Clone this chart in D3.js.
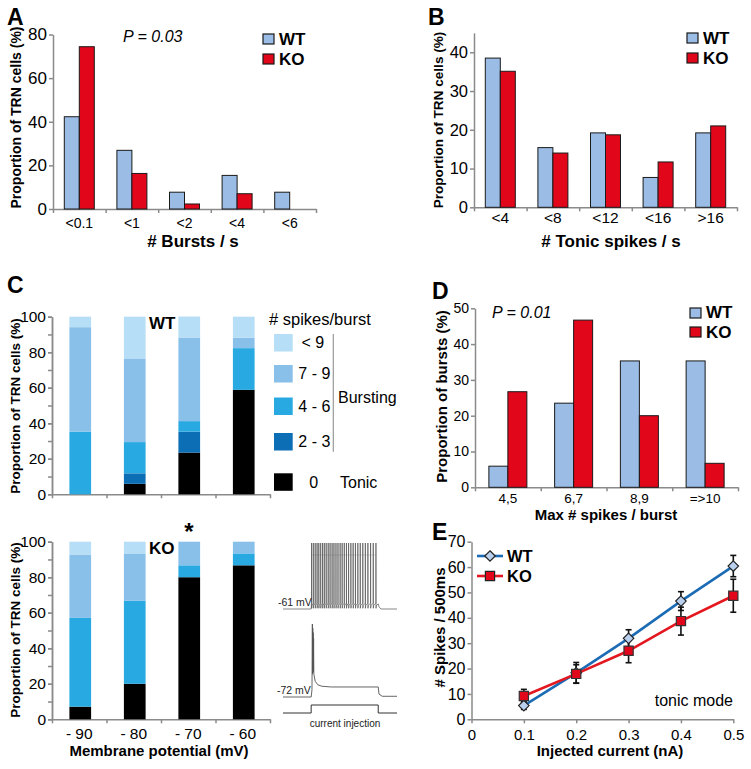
<!DOCTYPE html>
<html><head><meta charset="utf-8">
<script src="https://cdn.jsdelivr.net/npm/d3@7"></script>
<style>html,body{margin:0;padding:0;background:#fff;}</style>
</head><body>
<script>
// ---------- DATA ----------
const groups = ["WT", "KO"];
// Panel A: bursts per second
const aCats = ["<0.1", "<1", "<2", "<4", "<6"];
const aWT = [42.3, 26.9, 7.7, 15.4, 7.7];
const aKO = [74.4, 16.3, 2.3, 7.0, 0];
const aTicks = [0, 20, 40, 60, 80];
// Panel B: tonic spikes per second
const bCats = ["<4", "<8", "<12", "<16", ">16"];
const bWT = [38.5, 15.4, 19.2, 7.7, 19.2];
const bKO = [35.1, 14.0, 18.7, 11.7, 21.0];
const bTicks = [0, 10, 20, 30, 40];
// Panel C: proportion of TRN cells by membrane potential
const cCats = ["- 90", "- 80", "- 70", "- 60"];
const cKeys = ["0", "2 - 3", "4 - 6", "7 - 9", "< 9"];
const cWTTonic = [0, 5.9, 23.5, 58.8];
const cWT23 = [0, 5.9, 11.8, 0];
const cWT46 = [35.3, 17.6, 5.9, 23.5];
const cWT79 = [58.8, 47.1, 47.1, 5.9];
const cWTlt9 = [5.9, 23.5, 11.8, 11.8];
const cKOTonic = [7.1, 20.0, 80.0, 86.7];
const cKO23 = [0, 0, 0, 0];
const cKO46 = [50.0, 46.7, 6.7, 6.7];
const cKO79 = [35.7, 26.7, 13.3, 6.6];
const cKOlt9 = [7.2, 6.6, 0, 0];
const cTicks = [0, 20, 40, 60, 80, 100];
// Panel D: max spikes per burst
const dCats = ["4,5", "6,7", "8,9", "=>10"];
const dWT = [5.9, 23.5, 35.3, 35.3];
const dKO = [26.7, 46.7, 20.0, 6.7];
const dTicks = [0, 10, 20, 30, 40, 50];
// Panel E: spikes vs injected current
const eX = [0.1, 0.2, 0.3, 0.4, 0.5];
const eWT = [5.4, 18.3, 31.9, 46.6, 60.4];
const eWTerr = [1.5, 4.1, 3.4, 3.7, 4.2];
const eKO = [9.2, 17.9, 27.0, 38.7, 48.7];
const eKOerr = [2.6, 3.6, 4.7, 5.5, 6.5];
const eXTicks = [0, 0.1, 0.2, 0.3, 0.4, 0.5];
const eYTicks = [0, 10, 20, 30, 40, 50, 60, 70];
// Example traces (time in ms, voltage in mV)
const tonicSpikeTimes = [3, 16, 30, 44, 57, 71, 85, 98, 112, 127, 141, 156, 170, 185, 200, 216, 231, 247, 263, 279, 296, 313, 330, 348, 366, 385, 404, 423, 443, 463, 483];
const burstTrace = [[-210,-72],[0,-72],[6,-62],[9,30],[10,-40],[12,24],[13,-38],[15,18],[16,-36],[18,10],[20,-40],[30,-50],[50,-55],[80,-57],[150,-58],[500,-58],[506,-68],[530,-71],[640,-71]];
const currentStep = [[-210,0],[0,0],[0,1],[500,1],[500,0],[640,0]];

// ---------- SETUP ----------
const FONT = '"Liberation Sans", Arial, Helvetica, sans-serif';
const AX = "#8a8a8a";
const WTC = "#9bbce5", KOC = "#e2061b";
const cColors = {"0": "#000000", "2 - 3": "#0c6fb6", "4 - 6": "#29a9e1", "7 - 9": "#88c0ea", "< 9": "#b6def6"};

const svg = d3.select("body").append("svg")
  .attr("width", 751).attr("height", 769)
  .style("font-family", FONT);
svg.append("rect").attr("width", 751).attr("height", 769).attr("fill", "#fff");

function styleAxis(g) {
  g.attr("font-family", FONT);
  g.select(".domain").attr("stroke", AX).attr("stroke-width", 1.5);
  g.selectAll(".tick line").attr("stroke", AX).attr("stroke-width", 1.5);
  g.selectAll("text").attr("fill", "#000");
}

function yAxis(x, scale, ticks, minor, fs) {
  if (minor) {
    svg.append("g").attr("transform", `translate(${x},0)`)
      .call(d3.axisLeft(scale).tickValues(minor).tickSize(4).tickSizeOuter(0).tickFormat(""))
      .call(styleAxis);
  }
  const g = svg.append("g").attr("transform", `translate(${x},0)`)
    .call(d3.axisLeft(scale).tickValues(ticks).tickSize(4).tickSizeOuter(0).tickPadding(2))
    .call(styleAxis);
  g.attr("font-size", fs);
  return g;
}

function xCatAxis(y, x0, x1, cats, fs, labelCY) {
  const band = d3.scaleBand().domain(cats).range([x0, x1]);
  const lin = d3.scaleLinear().domain([0, cats.length]).range([x0, x1]);
  svg.append("g").attr("transform", `translate(0,${y})`)
    .call(d3.axisBottom(lin).tickValues(d3.range(cats.length + 1)).tickSize(4).tickSizeOuter(0).tickFormat(""))
    .call(styleAxis);
  const g = svg.append("g").attr("transform", `translate(0,${y})`)
    .call(d3.axisBottom(band).tickSize(0).tickPadding(labelCY - y - 0.36 * fs))
    .call(styleAxis);
  g.select(".domain").remove();
  g.attr("font-size", fs);
  return band;
}

function text(x, y, str, opts = {}) {
  const t = svg.append("text").attr("x", x).attr("y", y).text(str)
    .attr("font-size", opts.size || 14)
    .attr("font-weight", opts.bold ? "bold" : "normal")
    .attr("font-style", opts.italic ? "italic" : "normal")
    .attr("text-anchor", opts.anchor || "start")
    .attr("fill", opts.fill || "#000");
  if (opts.rotate) t.attr("transform", `rotate(-90,${x},${y})`);
  return t;
}

function groupedBars(band, y, wt, ko, w) {
  const rows = band.domain().map((c, i) => ({c, WT: wt[i], KO: ko[i]}));
  const off = {WT: -w, KO: 0};
  const col = {WT: WTC, KO: KOC};
  groups.forEach(k => {
    svg.append("g").selectAll("rect").data(rows.filter(r => r[k] > 0)).join("rect")
      .attr("x", r => band(r.c) + band.bandwidth() / 2 + off[k])
      .attr("width", w)
      .attr("y", r => y(r[k]))
      .attr("height", r => y(0) - y(r[k]))
      .attr("fill", col[k]).attr("stroke", "#1a1a1a").attr("stroke-width", 1);
  });
}

function legendBoxes(x, ys, size, fs, textY) {
  groups.forEach((k, i) => {
    svg.append("rect").attr("x", x).attr("y", ys[i]).attr("width", size[0]).attr("height", size[1])
      .attr("fill", k === "WT" ? WTC : KOC).attr("stroke", "#1a1a1a").attr("stroke-width", 1.2);
    text(x + size[0] + 5, textY[i], k, {size: fs, bold: true});
  });
}

// ---------- PANEL A ----------
{
  const y = d3.scaleLinear().domain([0, 80]).range([209, 34.5]);
  const band = xCatAxis(209, 53, 316, aCats, 14, 222.7);
  yAxis(53, y, aTicks, null, 17);
  groupedBars(band, y, aWT, aKO, 15);
  text(7, 25, "A", {size: 23, bold: true});
  text(123, 41.5, "P = 0.03", {size: 16, italic: true});
  legendBoxes(263, [34, 54], [11, 10], 17, [44.5, 65]);
  text(193, 247, "# Bursts / s", {size: 17, bold: true, anchor: "middle"});
  text(21, 117.5, "Proportion of TRN cells (%)", {size: 14, bold: true, anchor: "middle", rotate: true});
}

// ---------- PANEL B ----------
{
  const y = d3.scaleLinear().domain([0, 45]).range([207.3, 32.9]);
  const band = xCatAxis(207.3, 474, 737, bCats, 15.5, 218);
  yAxis(474, y, bTicks, null, 16.5);
  groupedBars(band, y, bWT, bKO, 15);
  text(428, 25, "B", {size: 23, bold: true});
  legendBoxes(687, [33, 53], [11, 10], 17, [44, 64]);
  text(611, 247, "# Tonic spikes / s", {size: 17, bold: true, anchor: "middle"});
  text(443, 120, "Proportion of TRN cells (%)", {size: 13.6, bold: true, anchor: "middle", rotate: true});
}

// ---------- PANEL C ----------
function stackedPanel(y0, y100, series, showLabels) {
  const y = d3.scaleLinear().domain([0, 100]).range([y0, y100]);
  const band = d3.scaleBand().domain(cCats).range([52, 270]);
  const lin = d3.scaleLinear().domain([0, cCats.length]).range([52, 270]);
  svg.append("g").attr("transform", `translate(0,${y0})`)
    .call(d3.axisBottom(lin).tickValues(d3.range(cCats.length + 1)).tickSize(4).tickSizeOuter(0).tickFormat(""))
    .call(styleAxis);
  if (showLabels) {
    const g = svg.append("g").attr("transform", `translate(0,${y0})`)
      .call(d3.axisBottom(band).tickSize(0).tickPadding(734 - y0 - 0.36 * 15.5))
      .call(styleAxis);
    g.select(".domain").remove();
    g.attr("font-size", 15.5);
  }
  yAxis(52, y, cTicks, d3.range(0, 101, 10), 15.5);
  const rows = cCats.map((c, i) => {
    const r = {c};
    cKeys.forEach((k, j) => r[k] = series[j][i]);
    return r;
  });
  const stacked = d3.stack().keys(cKeys)(rows);
  const bw = 21.7;
  stacked.forEach(layer => {
    svg.append("g").selectAll("rect").data(layer.filter(d => d[1] - d[0] > 0)).join("rect")
      .attr("x", d => band(d.data.c) + band.bandwidth() / 2 - bw / 2 + 1)
      .attr("width", bw)
      .attr("y", d => y(d[1]))
      .attr("height", d => y(d[0]) - y(d[1]))
      .attr("fill", cColors[layer.key]);
  });
  return y;
}
stackedPanel(494.3, 316.7, [cWTTonic, cWT23, cWT46, cWT79, cWTlt9], false);
stackedPanel(719.3, 541.7, [cKOTonic, cKO23, cKO46, cKO79, cKOlt9], true);
text(7, 293, "C", {size: 23, bold: true});
text(149, 329, "WT", {size: 17, bold: true});
text(149, 554, "KO", {size: 17, bold: true});
text(189, 540, "*", {size: 24, bold: true, anchor: "middle"});
text(159, 756, "Membrane potential (mV)", {size: 15, bold: true, anchor: "middle"});
text(19.5, 406, "Proportion of TRN cells (%)", {size: 13.5, bold: true, anchor: "middle", rotate: true});
text(19.5, 630, "Proportion of TRN cells (%)", {size: 13.5, bold: true, anchor: "middle", rotate: true});
// C legend
{
  text(269, 325, "# spikes/burst", {size: 16.5});
  const legendOrder = ["< 9", "7 - 9", "4 - 6", "2 - 3"];
  const boxY = [334, 365, 397.5, 433];
  legendOrder.forEach((k, i) => {
    svg.append("rect").attr("x", 274).attr("y", boxY[i]).attr("width", 18.7).attr("height", 17.5).attr("fill", cColors[k]);
    text(k === "< 9" ? 301.5 : 298.3, boxY[i] + 8.75 + 5.6, k, {size: 16});
  });
  svg.append("rect").attr("x", 274).attr("y", 473.3).attr("width", 18.7).attr("height", 17.5).attr("fill", cColors["0"]);
  text(309.3, 487.6, "0", {size: 16});
  text(340, 487.6, "Tonic", {size: 16});
  svg.append("line").attr("x1", 333.3).attr("x2", 333.3).attr("y1", 334).attr("y2", 451.7)
    .attr("stroke", "#999").attr("stroke-width", 1.2);
  text(338, 402.5, "Bursting", {size: 16});
}

// ---------- TRACES ----------
{
  const t = d3.scaleLinear().domain([-210, 640]).range([283, 397]);
  const v1 = d3.scaleLinear().domain([-61, 30]).range([609, 543]);
  const v2 = d3.scaleLinear().domain([-72, 30]).range([697, 624]);
  const iS = d3.scaleLinear().domain([0, 1]).range([713, 705]);
  const pts1 = [[-210, -61], [0, -61], [2, -54]];
  tonicSpikeTimes.forEach(s => { pts1.push([s - 0.3, -53], [s, 30], [s + 0.6, -60], [s + 3, -56]); });
  pts1.push([500, -54], [506, -58], [520, -61], [640, -61]);
  const line1 = d3.line().x(d => t(d[0])).y(d => v1(d[1]));
  const line2 = d3.line().x(d => t(d[0])).y(d => v2(d[1]));
  const line3 = d3.line().x(d => t(d[0])).y(d => iS(d[1]));
  svg.append("line").attr("x1", t(0)).attr("x2", t(480)).attr("y1", 555).attr("y2", 555)
    .attr("stroke", "#bbb").attr("stroke-width", 0.6);
  svg.append("path").attr("d", line1(pts1)).attr("fill", "none").attr("stroke", "#555").attr("stroke-width", 0.7);
  svg.append("path").attr("d", line2(burstTrace)).attr("fill", "none").attr("stroke", "#555").attr("stroke-width", 0.9);
  svg.append("path").attr("d", line3(currentStep)).attr("fill", "none").attr("stroke", "#333").attr("stroke-width", 1);
  text(278, 606, "-61 mV", {size: 10.5, fill: "#222"});
  text(277, 694, "-72 mV", {size: 10.5, fill: "#222"});
  text(345, 726.5, "current injection", {size: 10, anchor: "middle", fill: "#222"});
}

// ---------- PANEL D ----------
{
  const y = d3.scaleLinear().domain([0, 50]).range([487.3, 308.3]);
  const band = xCatAxis(487.3, 475, 738, dCats, 13.5, 498.3);
  yAxis(475, y, dTicks, null, 14);
  groupedBars(band, y, dWT, dKO, 19);
  text(432, 299, "D", {size: 23, bold: true});
  text(492, 317.6, "P = 0.01", {size: 16, italic: true});
  legendBoxes(690, [308, 327], [11, 10], 17, [317.7, 338]);
  text(606, 520, "Max # spikes / burst", {size: 15, bold: true, anchor: "middle"});
  text(447, 396.5, "Proportion of bursts (%)", {size: 15, bold: true, anchor: "middle", rotate: true});
}

// ---------- PANEL E ----------
{
  const x = d3.scaleLinear().domain([0, 0.5]).range([471.5, 733.3]);
  const y = d3.scaleLinear().domain([0, 70]).range([719.3, 541.7]);
  const gx = svg.append("g").attr("transform", "translate(0,719.3)")
    .call(d3.axisBottom(x).tickValues(eXTicks).tickSize(4).tickSizeOuter(0).tickPadding(735 - 719.3 - 4 - 0.36 * 15).tickFormat(d => d === 0 ? "0" : d3.format(".1f")(d)))
    .call(styleAxis);
  gx.attr("font-size", 15);
  yAxis(471.5, y, eYTicks, null, 16);
  const wtPts = eX.map((v, i) => ({x: v, y: eWT[i], e: eWTerr[i]}));
  const koPts = eX.map((v, i) => ({x: v, y: eKO[i], e: eKOerr[i]}));
  const ln = d3.line().x(d => x(d.x)).y(d => y(d.y));
  const WTL = "#1c6bb5", KOL = "#e3171f";
  svg.append("path").attr("d", ln(wtPts)).attr("fill", "none").attr("stroke", WTL).attr("stroke-width", 2.6);
  svg.append("path").attr("d", ln(koPts)).attr("fill", "none").attr("stroke", KOL).attr("stroke-width", 2.6);
  [wtPts, koPts].forEach(pts => {
    const g = svg.append("g").attr("stroke", "#111").attr("stroke-width", 1.6);
    pts.forEach(p => {
      g.append("line").attr("x1", x(p.x)).attr("x2", x(p.x)).attr("y1", y(p.y - p.e)).attr("y2", y(p.y + p.e));
      [p.y - p.e, p.y + p.e].forEach(v => g.append("line").attr("x1", x(p.x) - 3).attr("x2", x(p.x) + 3).attr("y1", y(v)).attr("y2", y(v)));
    });
  });
  const diamond = d3.symbol().type(d3.symbolDiamond2).size(70);
  const square = d3.symbol().type(d3.symbolSquare).size(85);
  svg.append("g").selectAll("path").data(wtPts).join("path")
    .attr("transform", d => `translate(${x(d.x)},${y(d.y)})`).attr("d", diamond)
    .attr("fill", "#b9d0ee").attr("stroke", "#222").attr("stroke-width", 1.2);
  svg.append("g").selectAll("path").data(koPts).join("path")
    .attr("transform", d => `translate(${x(d.x)},${y(d.y)})`).attr("d", square)
    .attr("fill", KOC).attr("stroke", "#333").attr("stroke-width", 1.2);
  // legend
  [["WT", 556, WTL, diamond, "#b9d0ee"], ["KO", 576, KOL, square, KOC]].forEach(([k, ly, c, sym, f]) => {
    svg.append("line").attr("x1", 477).attr("x2", 503).attr("y1", ly).attr("y2", ly).attr("stroke", c).attr("stroke-width", 2.6);
    svg.append("path").attr("transform", `translate(490,${ly})`).attr("d", sym).attr("fill", f).attr("stroke", "#222").attr("stroke-width", 1.2);
    text(507, ly + 5.8, k, {size: 16.5, bold: true});
  });
  text(432, 540, "E", {size: 23, bold: true});
  text(733, 705.6, "tonic mode", {size: 16, anchor: "end"});
  text(610, 756, "Injected current (nA)", {size: 15, bold: true, anchor: "middle"});
  text(444.5, 627.5, "# Spikes / 500ms", {size: 15, bold: true, anchor: "middle", rotate: true});
}
</script>
</body></html>
